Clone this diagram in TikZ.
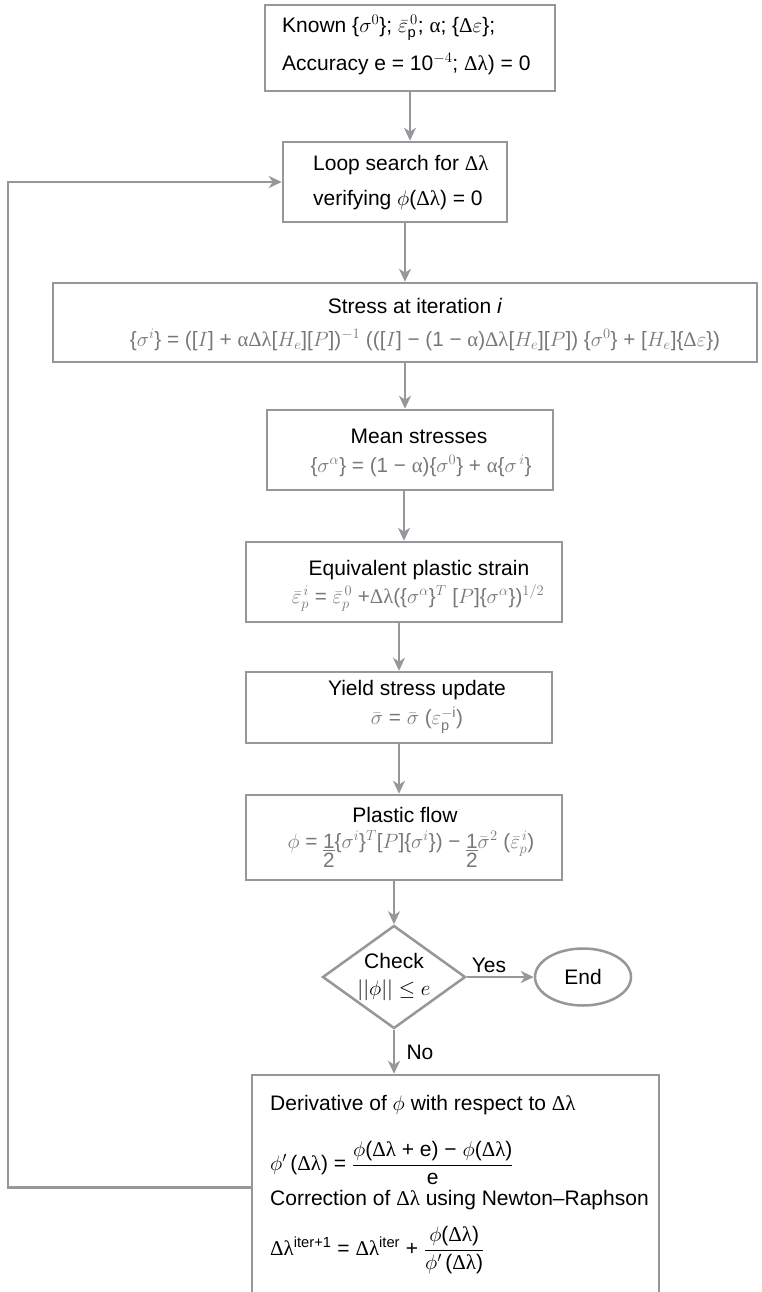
\documentclass[tikz,border=0pt]{standalone}
\usepackage{fix-cm}
\usepackage{amsmath}
\usepackage{fontspec}
\setmainfont{Liberation Sans}
\newfontfamily\grf{Liberation Serif}
\usetikzlibrary{arrows.meta,shapes.geometric,calc}
\definecolor{lg}{RGB}{150,150,155}
\definecolor{fg}{RGB}{120,120,120}
\newcommand{\myal}{{\grf α}}
\newcommand{\mydl}{{\grf Δλ}}
\newcommand{\myD}{{\grf Δ}}
\newcommand{\myhalf}{\begin{tabular}[t]{@{}c@{}}\underline{1}\\[-5pt]2\end{tabular}}
\tikzset{
  box/.style={draw=lg, line width=2.5pt, rectangle, inner sep=0pt, fill=white},
  arr/.style={draw=lg, line width=2.5pt, -{Stealth[length=13pt,width=12pt,inset=4pt]}},
  ln/.style={draw=lg, line width=2.5pt},
  hd/.style={inner sep=0pt, font=\fontsize{21}{25}\selectfont, text=black},
  fm/.style={inner sep=0pt, font=\fontsize{20.7}{24}\selectfont, text=fg},
}
\begin{document}
\begin{tikzpicture}[x=1pt,y=-1pt]
\clip (0,0) rectangle (762,1292);
\fill[white] (0,0) rectangle (762,1292);
% boxes
\node[box, minimum width=290, minimum height=86] (b1) at (410,48) {};
\node[box, minimum width=224, minimum height=80] (b2) at (395,182) {};
\node[box, minimum width=704, minimum height=79] (b3) at (405,322.5) {};
\node[box, minimum width=286, minimum height=80] (b4) at (410,450) {};
\node[box, minimum width=316, minimum height=80] (b5) at (404,582) {};
\node[box, minimum width=306, minimum height=71] (b6) at (399,707.5) {};
\node[box, minimum width=316, minimum height=85] (b7) at (404,837.5) {};
\node[box, diamond, minimum width=143, minimum height=103] (d) at (394,977) {};
\node[box, ellipse, minimum width=96, minimum height=57, font=\fontsize{21}{25}\selectfont] (e) at (583,977) {End};
\node[box, minimum width=407, minimum height=225] (b8) at (455.5,1187.5) {};
% texts
\node[hd, anchor=west] (t1a) at (282,28) {Known \{$\sigma^0$\}; $\bar{\varepsilon}^{\,0}_{\mathrm{p}}$; \myal; \{\myD$\varepsilon$\};};
\node[hd, anchor=west] (t1b) at (282,64) {Accuracy e = 10$^{-4}$; \mydl) = 0};
\node[hd, anchor=west] (t2a) at (313,165) {Loop search for \mydl};
\node[hd, anchor=west] (t2b) at (313,200) {verifying $\phi$(\mydl) = 0};
\node[hd] (t3a) at (415,306) {Stress at iteration \textit{i}};
\node[fm] (t3b) at (425,340) {\{$\sigma^i$\} = ([$I$] + \myal\mydl[$H_e$][$P$])$^{-1}$ (([$I$] − (1 − \myal)\mydl[$H_e$][$P$]) \{$\sigma^0$\} + [$H_e$]\{\myD$\varepsilon$\})};
\node[hd] (t4a) at (419,436) {Mean stresses};
\node[fm] (t4b) at (421,466) {\{$\sigma^\alpha$\} = (1 − \myal)\{$\sigma^0$\} + \myal\{$\sigma^{\,i}$\}};
\node[hd] (t5a) at (419,570) {Equivalent plastic strain};
\node[fm] (t5b) at (418,598) {$\bar{\varepsilon}^{\,i}_p$ = $\bar{\varepsilon}^{\,0}_p$ +\mydl(\{$\sigma^\alpha$\}$^T$ [$P$]\{$\sigma^\alpha$\})$^{1/2}$};
\node[hd] (t6a) at (417,690) {Yield stress update};
\node[fm] (t6b) at (417,720) {$\bar\sigma$ = $\bar\sigma$ ($\varepsilon^{-\mathrm{i}}_{\mathrm{p}}$)};
\node[hd] (t7a) at (405,815) {Plastic flow};
\node[fm, anchor=base] (t7b) at (411,848) {$\phi$ = \myhalf\{$\sigma^i$\}$^T$[$P$]\{$\sigma^i$\}) − \myhalf$\bar\sigma^2$ ($\bar{\varepsilon}^{\,i}_p$)};
\node[hd, align=center] (td) at (394,977) {Check\\[2pt]$||\phi||\le e$};
\node[hd] (ty) at (489,965) {Yes};
\node[hd] (tn) at (420,1052) {No};
\node[hd, anchor=west] (t8a) at (270,1105) {Derivative of $\phi$ with respect to \mydl};
\node[hd, anchor=west] (t8b) at (270,1163) {$\phi'$\,(\mydl) = $\dfrac{\text{$\phi$(\mydl{} + e) − $\phi$(\mydl)}}{\text{e}}$};
\node[hd, anchor=west] (t8c) at (270,1200) {Correction of \mydl{} using Newton–Raphson};
\node[hd, anchor=west] (t8d) at (270,1250) {\mydl$^{\text{iter+1}}$ = \mydl$^{\text{iter}}$ + $\dfrac{\text{$\phi$(\mydl)}}{\text{$\phi'$\,(\mydl)}}$};
% connectors
\draw[arr] (b1.south) -- (b1.south |- b2.north);
\draw[arr] (b2.south -| b3.north) -- (b3.north);
\draw[arr] (b3.south) -- (b3.south |- b4.north);
\draw[arr] (b4.south -| b5.north) -- (b5.north);
\draw[arr] (b5.south -| b6.north) -- (b6.north);
\draw[arr] (b6.south) -- (b6.south |- b7.north);
\draw[arr] (b7.south -| d.north) -- (d.north);
\draw[arr] (d.east) -- (e.west);
\draw[arr] (d.south) -- (d.south |- b8.north);
\coordinate (lc) at (8,182);
\draw[arr] (b8.west) -| (lc) -- (b2.west);
\end{tikzpicture}
\end{document}
